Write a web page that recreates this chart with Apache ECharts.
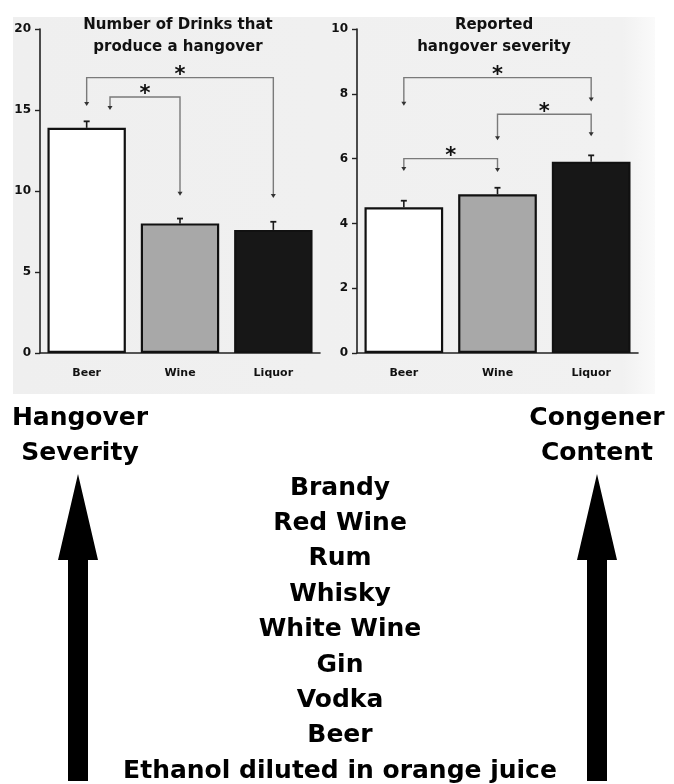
<!DOCTYPE html>
<html><head><meta charset="utf-8">
<script src="https://cdn.jsdelivr.net/npm/echarts@6/dist/echarts.min.js"></script>
<style>html,body{margin:0;padding:0;background:#fff}#c{width:674px;height:784px}</style>
</head><body><div id="c"></div>
<script>
const categories = ['Beer', 'Wine', 'Liquor'];
const drinksMean = [13.9, 8.0, 7.6];
const drinksErrTop = [14.3, 8.3, 8.1];
const severityMean = [4.5, 4.9, 5.9];
const severityErrTop = [4.7, 5.1, 6.1];
const drinksTicks = [0, 5, 10, 15, 20];
const severityTicks = [0, 2, 4, 6, 8, 10];
const barColors = ['#ffffff', '#a8a8a8', '#171717'];
// significance brackets: [fromCategory, fromOffset, toCategory, toOffset, bracketLevel, leftArrowTip, rightArrowTip]
const drinksBrackets = [[0, 0, 2, 0, 17.0, 15.25, 9.57], [0, 0.25, 1, 0, 15.8, 15.0, 9.7]];
const severityBrackets = [[0, 0, 2, 0, 8.5, 7.63, 7.76], [1, 0, 2, 0, 7.37, 6.57, 6.69], [0, 0, 1, 0, 6.0, 5.62, 5.59]];
const drinksTitle = ['Number of Drinks that', 'produce a hangover'];
const severityTitle = ['Reported', 'hangover severity'];
const leftLabel = ['Hangover', 'Severity'];
const rightLabel = ['Congener', 'Content'];
const drinksBySeverity = ['Brandy', 'Red Wine', 'Rum', 'Whisky', 'White Wine', 'Gin', 'Vodka', 'Beer', 'Ethanol diluted in orange juice'];

const FONT = '"DejaVu Sans", "Liberation Sans", sans-serif';
const chart = echarts.init(document.getElementById('c'), null, { renderer: 'canvas' });

function barData(vals) {
  return vals.map((v, i) => ({ value: v, itemStyle: { color: barColors[i] } }));
}
function errRender(params, api) {
  const base = api.coord([api.value(0), api.value(1)]);
  const top = api.coord([api.value(0), api.value(2)]);
  return {
    type: 'group', children: [
      { type: 'line', shape: { x1: base[0], y1: base[1], x2: top[0], y2: top[1] }, style: { stroke: '#1a1a1a', lineWidth: 1.6 } },
      { type: 'line', shape: { x1: top[0] - 3, y1: top[1], x2: top[0] + 3, y2: top[1] }, style: { stroke: '#1a1a1a', lineWidth: 1.8 } }
    ]
  };
}
function bracketRender(params, api) {
  const bw = api.size([1, 0])[0];
  const pA = api.coord([api.value(0), api.value(4)]);
  const pB = api.coord([api.value(2), api.value(4)]);
  const x1 = pA[0] + api.value(1) * bw, x2 = pB[0] + api.value(3) * bw, y = pA[1];
  const yL = api.coord([api.value(0), api.value(5)])[1];
  const yR = api.coord([api.value(2), api.value(6)])[1];
  const st = { stroke: '#7a7a7a', lineWidth: 1.4, fill: null };
  return {
    type: 'group', children: [
      { type: 'polyline', shape: { points: [[x1, yL - 3], [x1, y], [x2, y], [x2, yR - 3]] }, style: st },
      { type: 'polygon', shape: { points: [[x1 - 2.5, yL - 4], [x1 + 2.5, yL - 4], [x1, yL]] }, style: { fill: '#333' } },
      { type: 'polygon', shape: { points: [[x2 - 2.5, yR - 4], [x2 + 2.5, yR - 4], [x2, yR]] }, style: { fill: '#333' } },
      { type: 'text', x: (x1 + x2) / 2, y: y - 2, style: { text: '*', font: 'bold 21px ' + FONT, fill: '#111', align: 'center', verticalAlign: 'middle' } }
    ]
  };
}

const axisLineStyle = { lineStyle: { color: '#222', width: 1.6 } };
const yLabel = { color: '#111', fontFamily: FONT, fontWeight: 'bold', fontSize: 12, margin: 9 };
const xLabel = { color: '#111', fontFamily: FONT, fontWeight: 'bold', fontSize: 11, margin: 15 };

const graphics = [
  { type: 'rect', z: -10, shape: { x: 13, y: 17, width: 642, height: 377 }, style: { fill: new echarts.graphic.LinearGradient(0, 0, 1, 0, [{ offset: 0, color: '#efefef' }, { offset: 0.95, color: '#f1f1f1' }, { offset: 1, color: '#fafafa' }]) } },
  { type: 'text', x: 178, y: 36, style: { text: drinksTitle.join('\n'), font: 'bold 15px ' + FONT, fill: '#111', align: 'center', verticalAlign: 'middle', lineHeight: 22 } },
  { type: 'text', x: 494, y: 36, style: { text: severityTitle.join('\n'), font: 'bold 15px ' + FONT, fill: '#111', align: 'center', verticalAlign: 'middle', lineHeight: 22 } },
  { type: 'text', x: 80, y: 436, style: { text: leftLabel.join('\n'), font: 'bold 25px ' + FONT, fill: '#000', align: 'center', verticalAlign: 'middle', lineHeight: 35 } },
  { type: 'text', x: 597, y: 436, style: { text: rightLabel.join('\n'), font: 'bold 25px ' + FONT, fill: '#000', align: 'center', verticalAlign: 'middle', lineHeight: 35 } },
  { type: 'polygon', shape: { points: [[78, 474], [58, 560], [68, 560], [68, 781], [88, 781], [88, 560], [98, 560]] }, style: { fill: '#000' } },
  { type: 'polygon', shape: { points: [[597, 474], [577, 560], [587, 560], [587, 781], [607, 781], [607, 560], [617, 560]] }, style: { fill: '#000' } }
];
drinksBySeverity.forEach((name, i) => {
  graphics.push({ type: 'text', x: 340, y: 488 + i * 35.4, style: { text: name, font: 'bold 25px ' + FONT, fill: '#000', align: 'center', verticalAlign: 'middle' } });
});

function yAxisFor(grid, ticks) {
  return {
    gridIndex: grid, type: 'value', min: ticks[0], max: ticks[ticks.length - 1], interval: ticks[1] - ticks[0],
    axisLine: { show: true, ...axisLineStyle },
    axisTick: { show: true, length: 5, lineStyle: { color: '#222', width: 1.4 } },
    splitLine: { show: false }, axisLabel: yLabel
  };
}

chart.setOption({
  animation: false,
  backgroundColor: '#ffffff',
  grid: [
    { left: 40, top: 29, width: 280, height: 324 },
    { left: 357, top: 29, width: 281, height: 324 }
  ],
  xAxis: [
    { gridIndex: 0, type: 'category', data: categories, axisLine: axisLineStyle, axisTick: { show: false }, axisLabel: xLabel },
    { gridIndex: 1, type: 'category', data: categories, axisLine: axisLineStyle, axisTick: { show: false }, axisLabel: xLabel }
  ],
  yAxis: [yAxisFor(0, drinksTicks), yAxisFor(1, severityTicks)],
  series: [
    { type: 'bar', xAxisIndex: 0, yAxisIndex: 0, barWidth: '84%', data: barData(drinksMean), itemStyle: { borderColor: '#111', borderWidth: 2.2 } },
    { type: 'bar', xAxisIndex: 1, yAxisIndex: 1, barWidth: '84%', data: barData(severityMean), itemStyle: { borderColor: '#111', borderWidth: 2.2 } },
    { type: 'custom', xAxisIndex: 0, yAxisIndex: 0, renderItem: errRender, data: drinksMean.map((v, i) => [i, v, drinksErrTop[i]]), z: 1 },
    { type: 'custom', xAxisIndex: 1, yAxisIndex: 1, renderItem: errRender, data: severityMean.map((v, i) => [i, v, severityErrTop[i]]), z: 1 },
    { type: 'custom', xAxisIndex: 0, yAxisIndex: 0, renderItem: bracketRender, data: drinksBrackets, z: 3 },
    { type: 'custom', xAxisIndex: 1, yAxisIndex: 1, renderItem: bracketRender, data: severityBrackets, z: 3 }
  ],
  graphic: graphics
});
</script></body></html>
